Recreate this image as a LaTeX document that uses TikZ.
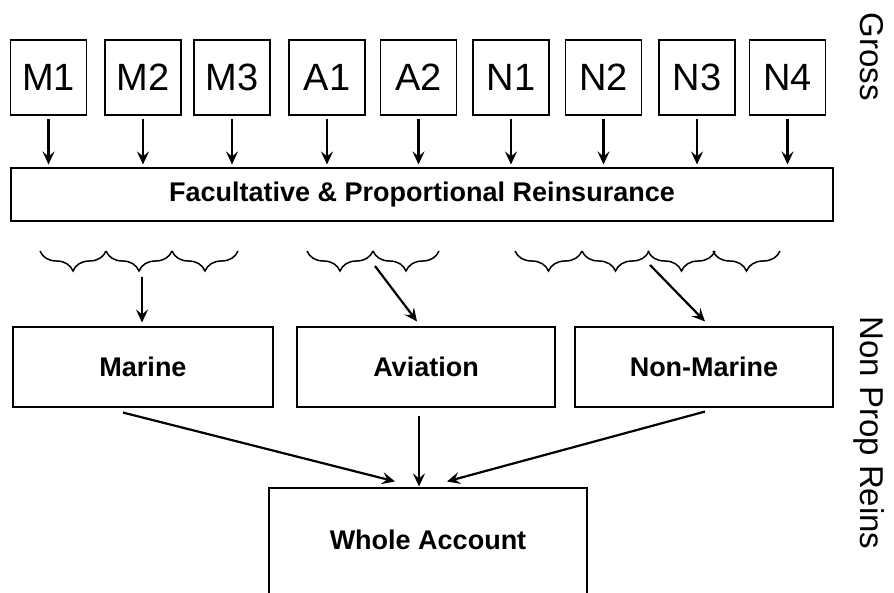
\documentclass[tikz,border=0pt]{standalone}
\usepackage{fontspec}
\setmainfont{Liberation Sans}
\usetikzlibrary{arrows.meta,decorations.pathreplacing,calc}

\begin{document}
\begin{tikzpicture}[
    x=1pt, y=-1pt,
    cell/.style={draw, line width=1.1pt, rectangle, minimum width=76pt, minimum height=75pt, inner sep=0pt, font=\fontsize{38}{40}\selectfont},
    panel/.style={draw, line width=1.1pt, rectangle, minimum height=80pt, inner sep=0pt, font=\bfseries\fontsize{27}{30}\selectfont},
    flow/.style={line width=2.2pt, -{Stealth[length=13pt, width=12pt, inset=5pt]}},
    brc/.style={decorate, decoration={brace, amplitude=20pt, mirror}, line width=1.5pt},
    side/.style={rotate=-90, text depth=0pt, font=\fontsize{33}{36}\selectfont},
]

\useasboundingbox (0,0) rectangle (894,593);
\clip (0,0) rectangle (894,593);

% Gross classes
\foreach \name/\x in {M1/48.5, M2/143, M3/232, A1/327, A2/418.5, N1/511, N2/603.5, N3/697, N4/787.5}
    \node[cell] (\name) at (\x,77.5) {\name};

\node[panel, minimum width=822pt, minimum height=53pt] (fac) at (422,194.5) {Facultative \& Proportional Reinsurance};

\foreach \name in {M1,M2,M3,A1,A2,N1,N2,N3,N4}
    \draw[flow, shorten <=3pt, shorten >=3pt] (\name.south) -- (\name.south |- fac.north);

% Braces grouping the classes
\foreach \x in {40,106,172}
    \draw[brc] (\x,251) -- ({\x+66},251);
\foreach \x in {307,373}
    \draw[brc] (\x,251) -- ({\x+66},251);
\foreach \x in {515,582,648,713}
    \draw[brc] (\x,251) -- ({\x+67},251);

% Non prop layer
\node[panel, minimum width=260pt] (marine) at (143,367) {Marine};
\node[panel, minimum width=258pt] (aviation) at (426,367) {Aviation};
\node[panel, minimum width=258pt] (nonmarine) at (704,367) {Non-Marine};
\node[panel, minimum width=318pt, minimum height=120pt, text depth=16pt] (whole) at (428,548) {Whole Account};

\coordinate (mb) at (142,277);
\coordinate (ab) at (375,266);
\coordinate (nb) at (650,265);
\draw[flow] (mb) -- ($(marine.north)+(-1,-4)$);
\draw[flow] (ab) -- ($(aviation.north)+(-9,-5)$);
\draw[flow] (nb) -- ($(nonmarine.north)+(1,-5)$);

\draw[flow] ($(marine.south)+(-20,5)$) -- ($(whole.north)+(-33,-6)$);
\draw[flow] ($(aviation.south)+(-7,8)$) -- ($(whole.north)+(-9,-1)$);
\draw[flow] ($(nonmarine.south)+(1,4)$) -- ($(whole.north)+(19,-6)$);

% Side labels
\node[side] (gross) at (872.5,56.5) {Gross};
\node[side] (nonprop) at (872.5,433) {Non Prop Reins};

\end{tikzpicture}
\end{document}
